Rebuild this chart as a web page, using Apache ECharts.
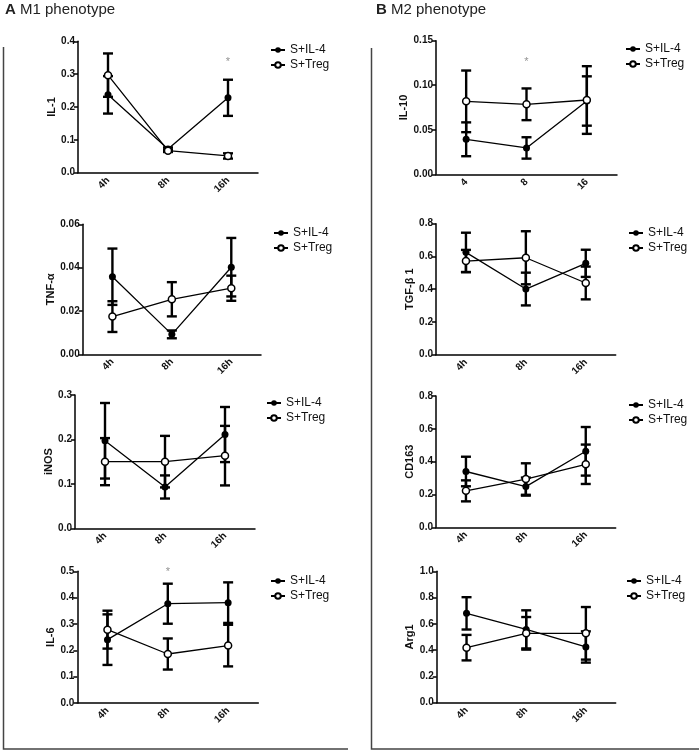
<!DOCTYPE html>
<html><head><meta charset="utf-8">
<script src="https://cdn.jsdelivr.net/npm/echarts@6/dist/echarts.min.js"></script>
<style>html,body{margin:0;padding:0;background:#fff}#c{width:699px;height:753px}</style>
</head><body><div id="c"></div>
<script>
// ---- data ----
const timeCats = ['4h', '8h', '16h'];
const timeCatsIL10 = ['4', '8', '16'];
const seriesNames = ['S+IL-4', 'S+Treg'];

const il1_IL4 = [0.237, 0.072, 0.228];   const il1_IL4_err = [0.057, 0.005, 0.055];
const il1_Treg = [0.297, 0.067, 0.051];  const il1_Treg_err = [0.066, 0.004, 0.008];

const il10_IL4 = [0.0393, 0.0296, 0.0823]; const il10_IL4_err = [0.019, 0.012, 0.0277];
const il10_Treg = [0.0819, 0.0786, 0.0834]; const il10_Treg_err = [0.0346, 0.0178, 0.038];

const tnf_IL4 = [0.0358, 0.0092, 0.0402]; const tnf_IL4_err = [0.013, 0.0018, 0.0135];
const tnf_Treg = [0.0174, 0.0254, 0.0305]; const tnf_Treg_err = [0.0071, 0.0079, 0.0058];

const tgf_IL4 = [0.625, 0.401, 0.558]; const tgf_IL4_err = [0.12, 0.10, 0.083];
const tgf_Treg = [0.572, 0.592, 0.438]; const tgf_Treg_err = [0.068, 0.162, 0.10];

const inos_IL4 = [0.197, 0.093, 0.211]; const inos_IL4_err = [0.085, 0.026, 0.062];
const inos_Treg = [0.150, 0.150, 0.1635]; const inos_Treg_err = [0.053, 0.058, 0.067];

const cd163_IL4 = [0.34, 0.248, 0.463]; const cd163_IL4_err = [0.09, 0.055, 0.148];
const cd163_Treg = [0.222, 0.294, 0.384]; const cd163_Treg_err = [0.064, 0.096, 0.12];

const il6_IL4 = [0.2405, 0.377, 0.381]; const il6_IL4_err = [0.096, 0.076, 0.077];
const il6_Treg = [0.2785, 0.186, 0.218]; const il6_Treg_err = [0.072, 0.059, 0.079];

const arg1_IL4 = [0.680, 0.558, 0.424]; const arg1_IL4_err = [0.123, 0.145, 0.119];
const arg1_Treg = [0.419, 0.528, 0.528]; const arg1_Treg_err = [0.097, 0.124, 0.200];

// asterisks: [category index, value]
const il1_star = [[2, 0.336]];
const il10_star = [[1, 0.1257]];
const il6_star = [[1, 0.499]];

const panels = [
  {name: 'IL-1', cats: timeCats, a: il1_IL4, ae: il1_IL4_err, b: il1_Treg, be: il1_Treg_err, max: 0.4, step: 0.1, dec: 1, star: il1_star},
  {name: 'IL-10', cats: timeCatsIL10, a: il10_IL4, ae: il10_IL4_err, b: il10_Treg, be: il10_Treg_err, max: 0.15, step: 0.05, dec: 2, star: il10_star},
  {name: 'TNF-α', cats: timeCats, a: tnf_IL4, ae: tnf_IL4_err, b: tnf_Treg, be: tnf_Treg_err, max: 0.06, step: 0.02, dec: 2, star: []},
  {name: 'TGF-β 1', cats: timeCats, a: tgf_IL4, ae: tgf_IL4_err, b: tgf_Treg, be: tgf_Treg_err, max: 0.8, step: 0.2, dec: 1, star: []},
  {name: 'iNOS', cats: timeCats, a: inos_IL4, ae: inos_IL4_err, b: inos_Treg, be: inos_Treg_err, max: 0.3, step: 0.1, dec: 1, star: []},
  {name: 'CD163', cats: timeCats, a: cd163_IL4, ae: cd163_IL4_err, b: cd163_Treg, be: cd163_Treg_err, max: 0.8, step: 0.2, dec: 1, star: []},
  {name: 'IL-6', cats: timeCats, a: il6_IL4, ae: il6_IL4_err, b: il6_Treg, be: il6_Treg_err, max: 0.5, step: 0.1, dec: 1, star: il6_star},
  {name: 'Arg1', cats: timeCats, a: arg1_IL4, ae: arg1_IL4_err, b: arg1_Treg, be: arg1_Treg_err, max: 1.0, step: 0.2, dec: 1, star: []}
];

// ---- layout (pixels) ----
const layout = [
  {left: 78, top: 41.3, width: 180, height: 131.4, nameX: 53, legX: 270, legY: 44},
  {left: 436, top: 40.7, width: 181, height: 133.6, nameX: 405, legX: 625, legY: 43},
  {left: 82.7, top: 224.3, width: 178.3, height: 130, nameX: 53, legX: 273, legY: 227},
  {left: 436, top: 223.7, width: 179.7, height: 131, nameX: 410, legX: 628, legY: 227},
  {left: 75, top: 395, width: 180, height: 133.3, nameX: 50, legX: 266, legY: 397},
  {left: 436, top: 396, width: 179.7, height: 131.3, nameX: 410, legX: 628, legY: 399},
  {left: 77.3, top: 571.3, width: 181, height: 131.7, nameX: 53, legX: 270, legY: 575},
  {left: 436.7, top: 571.3, width: 179, height: 131.4, nameX: 410, legX: 626, legY: 575}
];

const FONT = 'Liberation Sans, Arial, sans-serif';
const grid = [], xAxis = [], yAxis = [], series = [], legend = [];

function errRender(params, api) {
  const i = api.value(0);
  const lo = api.coord([i, api.value(1)]);
  const hi = api.coord([i, api.value(2)]);
  const w = 5;
  const st = {stroke: '#000', lineWidth: 2.4};
  return {type: 'group', children: [
    {type: 'line', shape: {x1: lo[0], y1: lo[1], x2: hi[0], y2: hi[1]}, style: st},
    {type: 'line', shape: {x1: lo[0] - w, y1: lo[1], x2: lo[0] + w, y2: lo[1]}, style: st},
    {type: 'line', shape: {x1: hi[0] - w, y1: hi[1], x2: hi[0] + w, y2: hi[1]}, style: st}
  ]};
}

panels.forEach((p, k) => {
  const L = layout[k];
  grid.push({left: L.left, top: L.top, width: L.width, height: L.height, containLabel: false});
  xAxis.push({
    type: 'category', gridIndex: k, data: p.cats, boundaryGap: true,
    axisLine: {lineStyle: {color: '#000', width: 1.5}},
    axisTick: {alignWithLabel: true, length: 4, lineStyle: {color: '#000', width: 1.5}},
    axisLabel: {rotate: 45, fontSize: 10, fontWeight: 'bold', color: '#111', fontFamily: FONT, margin: 6},
    splitLine: {show: false}
  });
  yAxis.push({
    type: 'value', gridIndex: k, min: 0, max: p.max, interval: p.step,
    name: p.name, nameLocation: 'middle', nameGap: L.left - L.nameX - 6,
    nameTextStyle: {fontSize: 11, fontWeight: 'bold', color: '#111', fontFamily: FONT},
    axisLine: {show: true, lineStyle: {color: '#000', width: 1.5}},
    axisTick: {show: true, length: 4, lineStyle: {color: '#000', width: 1.5}},
    axisLabel: {fontSize: 10, fontWeight: 'bold', color: '#111', fontFamily: FONT, margin: 3,
      formatter: v => v.toFixed(p.dec)},
    splitLine: {show: false}
  });
  const errA = p.a.map((v, i) => [i, v - p.ae[i], v + p.ae[i]]);
  const errB = p.b.map((v, i) => [i, v - p.be[i], v + p.be[i]]);
  series.push({type: 'custom', xAxisIndex: k, yAxisIndex: k, renderItem: errRender, data: errA, z: 1, silent: true});
  series.push({type: 'custom', xAxisIndex: k, yAxisIndex: k, renderItem: errRender, data: errB, z: 1, silent: true});
  series.push({
    name: seriesNames[0], type: 'line', xAxisIndex: k, yAxisIndex: k, data: p.a, z: 3,
    symbol: 'circle', symbolSize: 7, itemStyle: {color: '#000'},
    lineStyle: {color: '#000', width: 1.3}, animation: false
  });
  series.push({
    name: seriesNames[1], type: 'line', xAxisIndex: k, yAxisIndex: k, data: p.b, z: 4,
    symbol: 'circle', symbolSize: 7, itemStyle: {color: '#fff', borderColor: '#000', borderWidth: 1.5},
    lineStyle: {color: '#000', width: 1.3}, animation: false
  });
  if (p.star.length) {
    series.push({
      type: 'scatter', xAxisIndex: k, yAxisIndex: k, data: p.star, symbolSize: 0, z: 5,
      label: {show: true, position: 'inside', formatter: '*', fontSize: 11, color: '#777', fontFamily: FONT}
    });
  }
  legend.push({
    data: seriesNames, orient: 'vertical', left: L.legX, top: L.legY, padding: 0,
    itemWidth: 14, itemHeight: 7, itemGap: 3, selectedMode: false,
    textStyle: {fontSize: 12, color: '#111', fontFamily: FONT}
  });
});

const chart = echarts.init(document.getElementById('c'), null, {renderer: 'canvas'});
chart.setOption({
  animation: false,
  backgroundColor: '#fff',
  grid, xAxis, yAxis, series, legend,
  graphic: [
    {type: 'text', left: 5, top: 2, style: {text: '{b|A} M1 phenotype', font: '15px ' + FONT, fill: '#222',
      rich: {b: {fontWeight: 'bold', fontSize: 15, fontFamily: FONT, fill: '#222'}}}},
    {type: 'text', left: 376, top: 2, style: {text: '{b|B} M2 phenotype', font: '15px ' + FONT, fill: '#222',
      rich: {b: {fontWeight: 'bold', fontSize: 15, fontFamily: FONT, fill: '#222'}}}},
    {type: 'polyline', shape: {points: [[3.5, 47], [3.5, 749], [348, 749]]}, style: {stroke: '#444', lineWidth: 1.5, fill: null}},
    {type: 'polyline', shape: {points: [[371.5, 48], [371.5, 749], [699, 749]]}, style: {stroke: '#444', lineWidth: 1.5, fill: null}}
  ]
});
</script>
</body></html>
